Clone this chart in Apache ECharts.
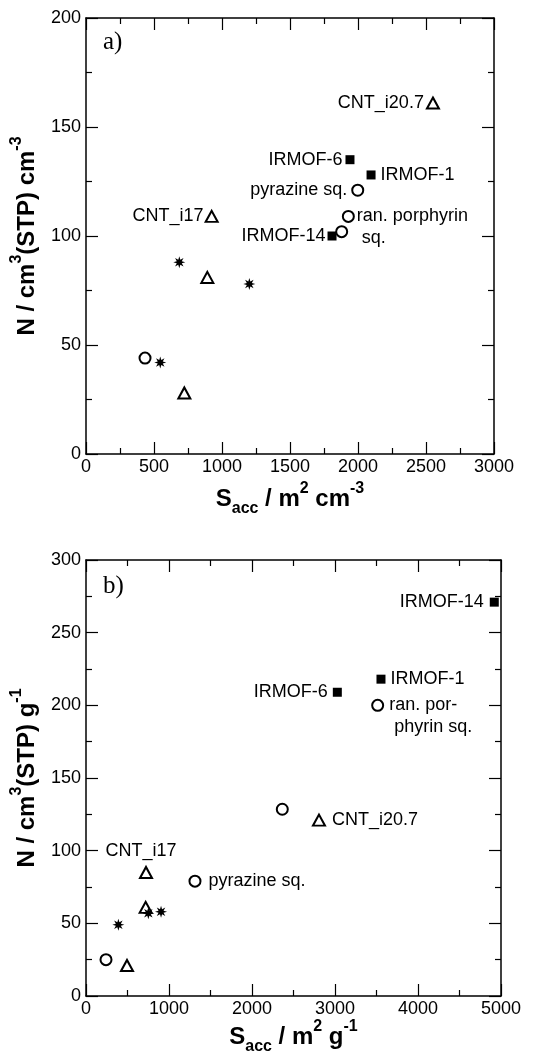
<!DOCTYPE html>
<html>
<head>
<meta charset="utf-8">
<script src="https://cdn.jsdelivr.net/npm/echarts@6/dist/echarts.min.js"></script>
<style>
  html, body { margin: 0; padding: 0; background: #fff; }
  #chart-panel { width: 537px; height: 1057px; }
</style>
</head>
<body>
<div id="chart-panel"></div>
<script>
// panel a) : per volume
var aSquareX = [1941, 2096, 1809];
var aSquareY = [135, 128, 100];
var aSquareNames = ['IRMOF-6', 'IRMOF-1', 'IRMOF-14'];
var aCircleX = [1998, 1929, 1880, 434];
var aCircleY = [121, 109, 102, 44];
var aCircleNames = ['pyrazine sq.', 'ran. porphyrin\n sq.', '', ''];
var aTriangleX = [2551, 924, 892, 723];
var aTriangleY = [161, 109, 81, 28];
var aTriangleNames = ['CNT_i20.7', 'CNT_i17', '', ''];
var aStarX = [686, 1201, 546];
var aStarY = [88, 78, 42];

// panel b) : per mass
var bSquareX = [4919, 3554, 3028];
var bSquareY = [271, 218, 209];
var bSquareNames = ['IRMOF-14', 'IRMOF-1', 'IRMOF-6'];
var bCircleX = [3514, 2365, 1313, 241];
var bCircleY = [200, 128.5, 79, 25];
var bCircleNames = ['ran. por-\n phyrin sq.', '', 'pyrazine sq.', ''];
var bTriangleX = [2807, 723, 719, 494];
var bTriangleY = [121, 85, 61, 21];
var bTriangleNames = ['CNT_i20.7', 'CNT_i17', '', ''];
var bStarX = [751, 904, 390];
var bStarY = [57, 58, 49];

// where each point label sits
var aLabelPos = {
  'IRMOF-6': ['left', 3], 'IRMOF-1': ['right', 5], 'IRMOF-14': ['left', 2],
  'pyrazine sq.': ['left', 4], 'ran. porphyrin\n sq.': ['right', 2, 11],
  'CNT_i20.7': ['left', 2], 'CNT_i17': ['left', 1]
};
var bLabelPos = {
  'IRMOF-14': ['left', 6], 'IRMOF-1': ['right', 5], 'IRMOF-6': ['left', 5],
  'ran. por-\n phyrin sq.': ['right', 5, 11], 'pyrazine sq.': ['right', 7],
  'CNT_i20.7': ['right', 6], 'CNT_i17': ['top', 4, 0, -5]
};

var chart = document.getElementById('chart-panel');
var myChart = echarts.init(chart);

var font = 'Liberation Sans';

// asterisk-like star marker
var starPath = 'path://';
for (var k = 0; k < 16; k++) {
  var r = k % 2 === 0 ? 10 : 4.5;
  var ang = k * Math.PI / 8 - Math.PI / 2;
  starPath += (k === 0 ? 'M' : 'L') + (10 + r * Math.cos(ang)).toFixed(2) + ',' + (10 + r * Math.sin(ang)).toFixed(2);
}
starPath += 'Z';

function points(xs, ys, names, pos) {
  return xs.map(function (x, i) {
    var item = { value: [x, ys[i]] };
    var nm = names ? names[i] : '';
    if (nm) {
      var p = pos[nm];
      item.name = nm;
      item.label = {
        show: true,
        position: p[0],
        distance: p[1],
        offset: [p[3] || 0, p[2] || 0]
      };
    }
    return item;
  });
}

var labelStyle = {
  show: false,
  formatter: '{b}',
  color: '#000',
  fontFamily: font,
  fontSize: 18,
  lineHeight: 22
};

function series(idx, xs, ys, names, pos, kind) {
  var s = {
    type: 'scatter',
    xAxisIndex: idx,
    yAxisIndex: idx,
    data: points(xs, ys, names, pos),
    label: labelStyle,
    emphasis: { disabled: true },
    z: 5
  };
  if (kind === 'square') {
    s.symbol = 'rect'; s.symbolSize = 9;
    s.itemStyle = { color: '#000', opacity: 1 };
  } else if (kind === 'circle') {
    s.symbol = 'circle'; s.symbolSize = 11;
    s.itemStyle = { color: '#fff', borderColor: '#000', borderWidth: 2, opacity: 1 };
  } else if (kind === 'triangle') {
    s.symbol = 'triangle'; s.symbolSize = [12, 11];
    s.itemStyle = { color: '#fff', borderColor: '#000', borderWidth: 2, opacity: 1 };
  } else {
    s.symbol = starPath; s.symbolSize = 12;
    s.itemStyle = { color: '#000', opacity: 1 };
  }
  return s;
}

var rich = {
  b: { fontFamily: font, fontSize: 24, fontWeight: 'bold', color: '#000', lineHeight: 36 },
  sup: { fontFamily: font, fontSize: 16, fontWeight: 'bold', color: '#000', lineHeight: 17, verticalAlign: 'top' },
  sub: { fontFamily: font, fontSize: 16, fontWeight: 'bold', color: '#000', lineHeight: 17, verticalAlign: 'bottom' }
};

function plain(v) { return String(v); }

function xAxis(grid, max, interval, name, gap, top) {
  return {
    type: 'value',
    gridIndex: grid,
    position: top ? 'top' : 'bottom',
    min: 0, max: max, interval: interval,
    name: top ? '' : name,
    nameLocation: 'middle',
    nameGap: gap,
    nameTextStyle: { rich: rich },
    axisLine: { show: true, onZero: false, lineStyle: { color: '#000', width: 1.5 } },
    axisTick: { show: true, inside: true, length: 12, lineStyle: { color: '#000', width: 1.2 } },
    minorTick: { show: true, splitNumber: 2, length: 6, lineStyle: { color: '#000', width: 1.2 } },
    axisLabel: { show: !top, color: '#000', fontFamily: font, fontSize: 18, margin: 4, formatter: plain },
    splitLine: { show: false }
  };
}

function yAxis(grid, max, interval, name, gap, right) {
  return {
    type: 'value',
    gridIndex: grid,
    position: right ? 'right' : 'left',
    min: 0, max: max, interval: interval,
    name: right ? '' : name,
    nameLocation: 'middle',
    nameRotate: 90,
    nameGap: gap,
    nameTextStyle: { rich: rich },
    axisLine: { show: true, onZero: false, lineStyle: { color: '#000', width: 1.5 } },
    axisTick: { show: true, inside: true, length: 12, lineStyle: { color: '#000', width: 1.2 } },
    minorTick: { show: true, splitNumber: 2, length: 6, lineStyle: { color: '#000', width: 1.2 } },
    axisLabel: { show: !right, color: '#000', fontFamily: font, fontSize: 18, margin: 5, formatter: plain },
    splitLine: { show: false }
  };
}

var xNameA = '{b|S}{sub|acc}{b| / m}{sup|2}{b| cm}{sup|-3}';
var yNameA = '{b|N / cm}{sup|3}{b|(STP) cm}{sup|-3}';
var xNameB = '{b|S}{sub|acc}{b| / m}{sup|2}{b| g}{sup|-1}';
var yNameB = '{b|N / cm}{sup|3}{b|(STP) g}{sup|-1}';

var option = {
  animation: false,
  backgroundColor: '#fff',
  grid: [
    { left: 86, top: 18, width: 408, height: 436 },
    { left: 86, top: 560, width: 415, height: 436 }
  ],
  xAxis: [
    xAxis(0, 3000, 500, xNameA, 27, false),
    xAxis(1, 5000, 1000, xNameB, 22, false),
    xAxis(0, 3000, 500, '', 0, true),
    xAxis(1, 5000, 1000, '', 0, true)
  ],
  yAxis: [
    yAxis(0, 200, 50, yNameA, 41, false),
    yAxis(1, 300, 50, yNameB, 41, false),
    yAxis(0, 200, 50, '', 0, true),
    yAxis(1, 300, 50, '', 0, true)
  ],
  graphic: [
    { type: 'text', left: 103, top: 30, style: { text: 'a)', font: '25px "Liberation Serif"', fill: '#000' } },
    { type: 'text', left: 103, top: 574, style: { text: 'b)', font: '25px "Liberation Serif"', fill: '#000' } }
  ],
  series: [
    series(0, aSquareX, aSquareY, aSquareNames, aLabelPos, 'square'),
    series(0, aCircleX, aCircleY, aCircleNames, aLabelPos, 'circle'),
    series(0, aTriangleX, aTriangleY, aTriangleNames, aLabelPos, 'triangle'),
    series(0, aStarX, aStarY, null, aLabelPos, 'star'),
    series(1, bSquareX, bSquareY, bSquareNames, bLabelPos, 'square'),
    series(1, bCircleX, bCircleY, bCircleNames, bLabelPos, 'circle'),
    series(1, bTriangleX, bTriangleY, bTriangleNames, bLabelPos, 'triangle'),
    series(1, bStarX, bStarY, null, bLabelPos, 'star')
  ]
};

myChart.setOption(option);
</script>
</body>
</html>
